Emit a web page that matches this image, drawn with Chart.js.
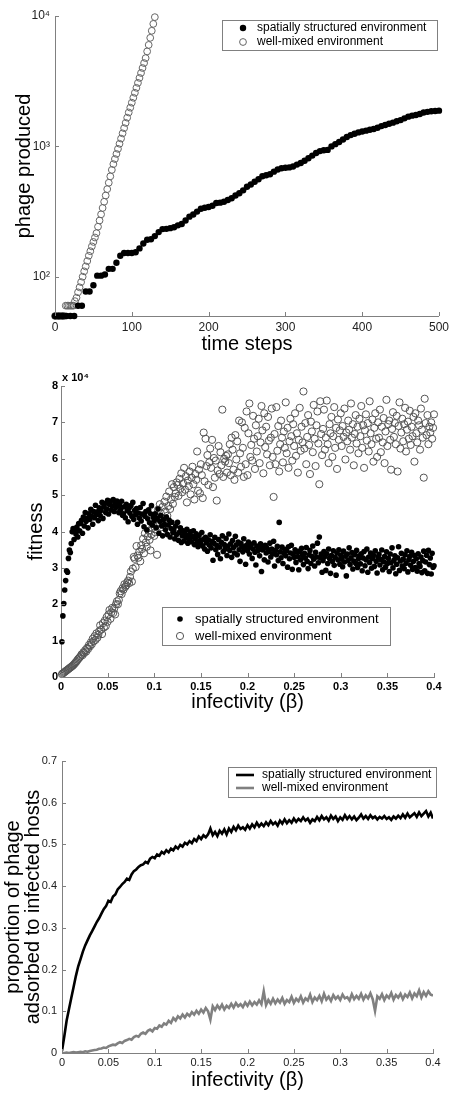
<!DOCTYPE html>
<html>
<head>
<meta charset="utf-8">
<script src="https://cdn.jsdelivr.net/npm/chart.js@4.4.1/dist/chart.umd.min.js"></script>
<style>
  html, body { margin: 0; padding: 0; background: #fff; }
  body { width: 453px; height: 1093px; position: relative; overflow: hidden; }
  canvas { position: absolute; left: 0; }
</style>
</head>
<body>
<canvas id="growthChart" width="453" height="358" style="top:0px"></canvas>
<canvas id="fitnessChart" width="453" height="360" style="top:358px"></canvas>
<canvas id="adsorbChart" width="453" height="375" style="top:718px"></canvas>
<script>
const legendLabels = ['spatially structured environment', 'well-mixed environment'];

// --- top panel: phage produced vs time steps (log y) ---
const spatialTimeStep = 5;   // one value every 5 time steps, 0..500
const spatialPhage = [
  50, 50, 50, 50, 50, 50, 60, 60, 77, 77,
  86, 102, 102, 104, 115, 115, 128, 145, 152, 152,
  152, 154, 165, 180, 192, 194, 205, 220, 232, 233,
  236, 240, 248, 254, 270, 289, 300, 316, 332, 338,
  343, 350, 368, 370, 376, 388, 400, 420, 437, 460,
  490, 510, 535, 560, 590, 600, 612, 640, 665, 680,
  685, 690, 700, 725, 745, 775, 810, 850, 890, 920,
  935, 940, 1000, 1040, 1080, 1130, 1180, 1220, 1250, 1280,
  1300, 1320, 1340, 1360, 1390, 1430, 1460, 1490, 1520, 1560,
  1590, 1640, 1690, 1720, 1740, 1770, 1820, 1840, 1860, 1870,
  1880
];
const mixedTimeStep = 2;     // one value every 2 time steps, 0..130
const mixedPhage = [
  50, 50, 50, 50, 50, 50, 50, 60, 60, 60, 60, 60, 60,
  65, 69, 76, 83, 91, 100, 110, 120, 132, 145, 157, 171, 185, 200,
  216, 242, 270, 301, 337, 376, 420, 470, 526, 589, 660, 731, 800, 875,
  957, 1047, 1148, 1259, 1380, 1514, 1660, 1820, 1982, 2163, 2360, 2576,
  2812, 3069, 3350, 3656, 3990, 4355, 4753, 5350, 6000, 6800, 7700, 8700, 9800
];
const growthTicks = [100, 1000, 10000];
const timeTicks = [0, 100, 200, 300, 400, 500];

// --- middle panel: fitness (x 10^4) vs infectivity ---
const fitnessBetaStep = 0.001;  // beta = 0.001 .. 0.400
const spatialFitness = [
  0.97, 1.68, 2.02, 2.39, 2.65, 2.92, 2.88, 3.26, 3.49, 3.42, 3.67, 3.99, 4.08, 3.78, 4.05, 3.93, 4.12, 3.85, 4.22, 4.02,
  4.22, 4.31, 3.95, 4.40, 4.15, 4.52, 4.28, 4.36, 4.10, 4.49, 4.33, 4.61, 4.42, 4.20, 4.55, 4.38, 4.72, 4.47, 4.54, 4.30,
  4.65, 4.44, 4.58, 4.80, 4.36, 4.69, 4.77, 4.52, 4.62, 4.86, 4.48, 4.74, 4.83, 4.59, 4.70, 4.88, 4.55, 4.78, 4.66, 4.84,
  4.78, 4.52, 4.71, 4.60, 4.83, 4.45, 4.49, 4.68, 4.38, 4.75, 4.57, 4.27, 4.64, 4.50, 4.71, 4.41, 4.80, 4.33, 4.58, 4.46,
  4.63, 4.20, 4.51, 4.37, 4.66, 4.29, 4.48, 4.77, 4.13, 4.42, 4.55, 4.04, 4.35, 4.60, 4.24, 4.49, 4.71, 4.18, 4.39, 4.30,
  4.49, 4.10, 4.36, 4.62, 3.95, 4.28, 4.44, 4.15, 3.88, 4.33, 4.20, 4.05, 4.40, 3.92, 4.18, 4.31, 3.85, 4.08, 4.25, 3.97,
  4.04, 3.80, 4.15, 3.92, 4.25, 3.76, 3.98, 4.10, 3.70, 3.88, 4.02, 3.74, 3.95, 3.83, 4.06, 3.68, 3.90, 3.77, 3.99, 3.72,
  3.86, 4.02, 3.64, 3.81, 3.94, 3.70, 3.58, 3.89, 3.75, 3.66, 3.97, 3.60, 3.79, 3.52, 3.84, 3.69, 3.46, 3.77, 3.63, 3.91,
  3.55, 3.73, 3.21, 3.68, 3.84, 3.50, 3.62, 3.37, 3.78, 3.57, 3.25, 3.70, 3.88, 3.45, 3.64, 3.52, 3.81, 3.34, 3.60, 3.93,
  3.48, 3.66, 3.29, 3.75, 3.56, 3.41, 3.87, 3.63, 3.36, 3.71, 3.50, 3.18, 3.67, 3.59, 3.44, 3.80, 3.53, 3.10, 3.62, 3.48,
  3.71, 3.38, 3.57, 3.64, 3.26, 3.52, 3.69, 3.43, 3.08, 3.60, 3.47, 3.55, 3.33, 3.66, 2.90, 3.49, 3.58, 3.22, 3.62, 3.41,
  3.54, 3.16, 3.45, 3.68, 3.30, 3.52, 3.39, 3.73, 3.05, 3.48, 3.36, 3.59, 3.20, 4.25, 3.44, 3.28, 3.57, 3.12, 3.40, 3.51,
  3.33, 3.47, 3.02, 3.58, 3.25, 3.41, 3.62, 2.96, 3.38, 3.29, 3.50, 3.15, 3.44, 3.31, 2.95, 3.46, 3.22, 3.54, 3.35, 3.09,
  3.40, 3.27, 3.56, 3.18, 2.98, 3.36, 3.48, 3.12, 3.32, 3.60, 3.24, 3.05, 3.43, 3.30, 3.68, 3.14, 3.85, 3.28, 3.38, 2.88,
  3.20, 3.45, 3.31, 2.93, 3.39, 3.12, 3.52, 3.26, 2.85, 3.34, 3.18, 3.47, 3.07, 3.29, 2.80, 3.41, 3.22, 3.50, 3.10, 3.35,
  3.24, 3.03, 3.46, 3.16, 3.32, 2.78, 3.38, 3.21, 3.55, 3.09, 3.28, 3.42, 2.97, 3.19, 3.36, 3.13, 3.48, 3.01, 3.25, 3.33,
  3.11, 3.39, 2.92, 3.27, 3.45, 3.06, 3.22, 3.52, 2.88, 3.30, 3.15, 3.41, 2.99, 3.26, 3.35, 3.04, 3.47, 3.18, 2.86, 3.29,
  3.37, 3.08, 3.23, 3.49, 2.95, 3.17, 3.31, 3.02, 3.44, 3.12, 3.26, 2.90, 3.38, 3.14, 3.55, 3.00, 3.21, 3.33, 2.84, 3.10,
  3.28, 3.58, 2.93, 3.19, 3.40, 3.05, 3.24, 2.98, 3.36, 3.13, 3.47, 2.89, 3.22, 3.31, 3.07, 3.43, 2.96, 3.18, 3.34, 3.01,
  3.25, 2.91, 3.39, 3.12, 3.04, 3.30, 2.87, 3.20, 3.46, 2.92, 3.16, 3.35, 2.85, 3.48, 3.09, 3.27, 2.83, 3.40, 3.02, 3.06
];
const mixedFitness = [
  0.08, 0.10, 0.12, 0.14, 0.16, 0.18, 0.20, 0.22, 0.24, 0.26, 0.28, 0.30, 0.32, 0.35, 0.38, 0.41, 0.44, 0.48, 0.51, 0.54,
  0.57, 0.62, 0.60, 0.68, 0.66, 0.74, 0.70, 0.80, 0.77, 0.88, 0.84, 0.95, 0.90, 1.05, 0.98, 1.12, 1.02, 1.20, 1.08, 1.16,
  1.26, 1.42, 1.30, 1.18, 1.48, 1.36, 1.55, 1.40, 1.65, 1.52, 1.72, 1.84, 1.60, 1.78, 1.90, 1.76, 1.88, 1.72, 2.00, 2.08,
  2.00, 2.12, 2.30, 2.36, 2.28, 2.44, 2.40, 2.55, 2.48, 2.52, 2.60, 2.65, 2.58, 2.75, 2.90, 2.62, 2.98, 3.30, 3.25, 3.02,
  3.60, 3.34, 3.28, 3.45, 3.18, 3.62, 3.52, 3.80, 3.40, 3.95, 3.70, 3.58, 3.86, 4.02, 3.77, 3.48, 3.92, 4.10, 4.20, 3.88,
  3.98, 4.40, 3.36, 4.60, 4.25, 4.75, 4.50, 4.12, 4.68, 4.35, 4.82, 4.55, 4.96, 4.43, 4.70, 5.10, 4.62, 4.88, 5.30, 4.76,
  5.22, 4.95, 5.05, 5.35, 5.28, 4.98, 5.45, 5.18, 5.60, 5.08, 5.32, 5.75, 5.15, 5.52, 4.80, 5.40, 5.25, 5.65, 5.02, 5.48,
  5.78, 5.30, 4.88, 5.58, 5.42, 6.20, 5.12, 5.70, 5.05, 5.85, 5.55, 4.92, 6.72, 5.38, 6.55, 5.80, 6.10, 5.28, 5.90, 6.28,
  5.75, 6.52, 5.22, 6.02, 5.48, 5.95, 4.85, 5.68, 6.35, 5.58, 6.18, 5.82, 7.35, 5.50, 6.00, 5.92, 6.08, 5.62, 6.12, 5.88,
  6.40, 5.55, 6.58, 6.25, 5.70, 5.42, 6.65, 5.98, 6.48, 5.62, 7.05, 6.15, 5.78, 7.00, 6.30, 5.50, 6.85, 5.85, 7.30, 5.55,
  6.70, 7.52, 6.05, 6.38, 5.95, 7.18, 6.55, 5.72, 6.92, 6.20, 6.62, 7.10, 5.88, 6.45, 7.45, 6.78, 5.60, 7.25, 6.32, 6.88,
  6.12, 7.15, 6.50, 5.82, 6.58, 7.38, 6.05, 4.95, 6.68, 5.85, 7.42, 6.22, 6.90, 5.65, 6.40, 7.05, 6.58, 5.90, 6.75, 6.30,
  7.55, 6.15, 6.85, 5.75, 6.48, 7.10, 6.62, 5.95, 6.95, 6.35, 7.25, 6.08, 6.70, 5.62, 6.52, 7.40, 6.22, 6.88, 6.45, 7.85,
  6.28, 6.98, 5.85, 6.60, 7.20, 6.38, 5.58, 7.02, 6.75, 6.18, 7.48, 6.55, 5.80, 6.92, 7.30, 6.42, 5.30, 7.58, 6.68, 6.10,
  6.82, 7.35, 6.25, 6.58, 7.60, 6.40, 5.88, 6.95, 6.70, 7.15, 6.05, 6.62, 7.42, 6.30, 6.85, 5.72, 7.08, 6.52, 6.78, 7.25,
  6.35, 6.90, 6.60, 7.38, 5.98, 6.72, 6.48, 7.05, 6.80, 6.25, 7.52, 6.58, 6.95, 5.82, 6.68, 7.20, 6.42, 6.88, 6.15, 7.10,
  6.62, 7.45, 6.30, 6.92, 5.75, 6.78, 7.22, 6.50, 6.98, 6.20, 7.58, 6.70, 6.40, 7.08, 5.92, 6.85, 7.25, 6.55, 6.05, 7.00,
  6.58, 7.35, 6.18, 6.88, 6.45, 7.12, 5.88, 6.75, 7.62, 6.35, 6.95, 7.05, 6.52, 5.70, 6.82, 7.28, 6.60, 6.98, 6.40, 7.18,
  5.65, 6.90, 7.55, 6.28, 6.72, 7.10, 6.48, 6.95, 7.40, 6.20, 6.80, 7.02, 6.55, 7.32, 6.38, 6.88, 6.62, 7.15, 5.92, 7.25,
  6.70, 6.45, 7.05, 6.92, 6.25, 7.38, 6.80, 6.58, 5.48, 7.65, 6.98, 6.65, 7.20, 6.40, 6.88, 6.72, 7.00, 6.55, 6.85, 7.22
];
const fitnessTicks = [0, 1, 2, 3, 4, 5, 6, 7, 8];
const betaTicks = [0, 0.05, 0.1, 0.15, 0.2, 0.25, 0.3, 0.35, 0.4];

// --- bottom panel: proportion adsorbed to infected hosts ---
const adsorbBetaStep = 0.0025;  // beta = 0 .. 0.4
const spatialAdsorbed = [
  0.005, 0.040, 0.078, 0.105, 0.132, 0.158, 0.185, 0.208, 0.225, 0.243,
  0.258, 0.270, 0.282, 0.292, 0.303, 0.314, 0.323, 0.334, 0.345, 0.352,
  0.365, 0.362, 0.375, 0.380, 0.392, 0.398, 0.405, 0.410, 0.418, 0.415,
  0.428, 0.436, 0.440, 0.446, 0.450, 0.452, 0.458, 0.455, 0.466, 0.470,
  0.467, 0.476, 0.473, 0.482, 0.478, 0.486, 0.481, 0.490, 0.486, 0.495,
  0.490, 0.499, 0.495, 0.504, 0.500, 0.508, 0.503, 0.513, 0.508, 0.519,
  0.513, 0.522, 0.517, 0.524, 0.538, 0.522, 0.530, 0.520, 0.533, 0.526,
  0.536, 0.524, 0.538, 0.530, 0.542, 0.534, 0.545, 0.537, 0.541, 0.535,
  0.546, 0.538, 0.548, 0.541, 0.552, 0.543, 0.550, 0.544, 0.553, 0.546,
  0.556, 0.548, 0.553, 0.545, 0.557, 0.550, 0.560, 0.551, 0.558, 0.552,
  0.562, 0.554, 0.561, 0.556, 0.565, 0.557, 0.562, 0.552, 0.560, 0.556,
  0.566, 0.558, 0.568, 0.560, 0.565, 0.557, 0.569, 0.561, 0.567, 0.556,
  0.565, 0.559, 0.570, 0.561, 0.568, 0.560, 0.567, 0.558, 0.564, 0.572,
  0.562, 0.568, 0.561, 0.570, 0.563, 0.567, 0.560, 0.566, 0.562, 0.568,
  0.561, 0.565, 0.559, 0.567, 0.562, 0.569, 0.563, 0.572, 0.564, 0.574,
  0.565, 0.570, 0.575, 0.566, 0.577, 0.568, 0.574, 0.580, 0.567, 0.576,
  0.562
];
const mixedAdsorbed = [
  0.000, 0.000, 0.001, 0.000, 0.001, 0.002, 0.001, 0.002, 0.003, 0.002,
  0.004, 0.003, 0.005, 0.006, 0.007, 0.008, 0.010, 0.011, 0.013, 0.012,
  0.016, 0.018, 0.020, 0.019, 0.023, 0.026, 0.024, 0.029, 0.031, 0.034,
  0.032, 0.038, 0.041, 0.039, 0.046, 0.049, 0.046, 0.053, 0.056, 0.052,
  0.060, 0.058, 0.066, 0.063, 0.071, 0.068, 0.077, 0.072, 0.084, 0.078,
  0.088, 0.083, 0.092, 0.085, 0.094, 0.089, 0.098, 0.092, 0.101, 0.094,
  0.104, 0.097, 0.108, 0.100, 0.080, 0.112, 0.103, 0.114, 0.106, 0.116,
  0.104, 0.113, 0.108, 0.118, 0.109, 0.120, 0.112, 0.117, 0.110, 0.121,
  0.113, 0.123, 0.114, 0.122, 0.116, 0.126, 0.117, 0.148, 0.115, 0.127,
  0.118, 0.130, 0.119, 0.128, 0.121, 0.132, 0.118, 0.127, 0.122, 0.135,
  0.120, 0.130, 0.124, 0.136, 0.121, 0.131, 0.126, 0.140, 0.122, 0.133,
  0.127, 0.137, 0.124, 0.142, 0.128, 0.135, 0.125, 0.139, 0.130, 0.136,
  0.127, 0.140, 0.131, 0.134, 0.126, 0.141, 0.129, 0.137, 0.130, 0.142,
  0.128, 0.138, 0.131, 0.143, 0.129, 0.101, 0.136, 0.130, 0.141, 0.127,
  0.138, 0.132, 0.144, 0.128, 0.139, 0.133, 0.142, 0.129, 0.140, 0.134,
  0.145, 0.131, 0.143, 0.136, 0.150, 0.133, 0.146, 0.137, 0.148, 0.140,
  0.138
];
const proportionTicks = [0, 0.1, 0.2, 0.3, 0.4, 0.5, 0.6, 0.7];


Chart.defaults.font.family = "'Liberation Sans', Arial, sans-serif";
Chart.defaults.color = '#222';

const AXIS_GRAY = '#808080';
const SUP = { '2': '\u00b2', '3': '\u00b3', '4': '\u2074' };

// turn a list of values into {x, y} points on an even grid
function toPoints(values, step, start) {
  return values.map((v, i) => ({ x: +(start + i * step).toFixed(4), y: v }));
}

function fmt(v) {
  return String(+v.toFixed(2));
}

// matlab style: short tick marks pointing into the plot
const inwardTicks = {
  id: 'inwardTicks',
  afterDatasetsDraw(chart) {
    const { ctx, chartArea, scales } = chart;
    ctx.save();
    ctx.strokeStyle = AXIS_GRAY;
    ctx.lineWidth = 1;
    ctx.beginPath();
    scales.x.ticks.forEach(t => {
      const px = Math.round(scales.x.getPixelForValue(t.value)) + 0.5;
      ctx.moveTo(px, chartArea.bottom);
      ctx.lineTo(px, chartArea.bottom - 4);
    });
    scales.y.ticks.forEach(t => {
      const py = Math.round(scales.y.getPixelForValue(t.value)) + 0.5;
      ctx.moveTo(chartArea.left, py);
      ctx.lineTo(chartArea.left + 4, py);
    });
    ctx.stroke();
    ctx.restore();
  }
};

// framed legend like the original figure
const boxLegend = {
  id: 'boxLegend',
  afterDraw(chart, args, opts) {
    const ctx = chart.ctx;
    ctx.save();
    ctx.fillStyle = '#fff';
    ctx.fillRect(opts.left, opts.top, opts.width, opts.height);
    ctx.strokeStyle = AXIS_GRAY;
    ctx.lineWidth = 1;
    ctx.strokeRect(opts.left + 0.5, opts.top + 0.5, opts.width, opts.height);
    ctx.font = opts.font;
    ctx.textBaseline = 'middle';
    chart.data.datasets.forEach((ds, i) => {
      const y = opts.rowY[i];
      if (opts.kind === 'line') {
        ctx.strokeStyle = ds.borderColor;
        ctx.lineWidth = ds.borderWidth;
        ctx.beginPath();
        ctx.moveTo(opts.markerX - 9, y);
        ctx.lineTo(opts.markerX + 9, y);
        ctx.stroke();
      } else {
        ctx.beginPath();
        ctx.arc(opts.markerX, y, ds.pointRadius, 0, Math.PI * 2);
        if (ds.pointBorderWidth === 0) {
          ctx.fillStyle = ds.pointBackgroundColor;
          ctx.fill();
        } else {
          ctx.strokeStyle = ds.pointBorderColor;
          ctx.lineWidth = ds.pointBorderWidth;
          ctx.stroke();
        }
      }
      ctx.fillStyle = '#000';
      ctx.fillText(ds.label, opts.textX, y);
    });
    ctx.restore();
  }
};

// the "x 10^4" multiplier above the fitness axis
const axisNote = {
  id: 'axisNote',
  afterDraw(chart, args, opts) {
    if (!opts.text) return;
    const ctx = chart.ctx;
    ctx.save();
    ctx.font = opts.font;
    ctx.fillStyle = '#000';
    ctx.textBaseline = 'middle';
    ctx.fillText(opts.text, opts.x, opts.y);
    ctx.restore();
  }
};

function baseAxis(extra) {
  return Object.assign({
    grid: { display: false, drawTicks: false },
    border: { display: true, color: AXIS_GRAY, width: 1 }
  }, extra);
}

// ---------- chart 1 ----------
new Chart(document.getElementById('growthChart'), {
  type: 'scatter',
  data: {
    datasets: [{
      label: legendLabels[0],
      data: toPoints(spatialPhage, spatialTimeStep, 0),
      pointRadius: 3.2,
      pointBorderWidth: 0,
      pointBackgroundColor: '#000',
      pointBorderColor: '#000',
      clip: false
    }, {
      label: legendLabels[1],
      data: toPoints(mixedPhage, mixedTimeStep, 0),
      pointRadius: 3.4,
      pointBorderWidth: 1,
      pointBackgroundColor: 'rgba(0,0,0,0)',
      pointBorderColor: '#666',
      clip: false
    }]
  },
  options: {
    responsive: false,
    animation: false,
    layout: { padding: { left: 0, top: 16, right: 11, bottom: 0 } },
    scales: {
      x: baseAxis({
        type: 'linear', min: 0, max: 500,
        afterBuildTicks: s => { s.ticks = timeTicks.map(v => ({ value: v })); },
        afterFit: s => { s.height = 42; },
        ticks: { font: { size: 12 }, padding: 4, color: '#222', autoSkip: false, maxRotation: 0 },
        title: { display: true, text: 'time steps', font: { size: 20, lineHeight: 1 }, color: '#000', padding: { top: 0, bottom: 4 } }
      }),
      y: baseAxis({
        type: 'logarithmic', min: 50, max: 10000,
        afterBuildTicks: s => { s.ticks = growthTicks.map(v => ({ value: v })); },
        afterFit: s => { s.width = 55; },
        ticks: { font: { size: 12 }, padding: 5, color: '#222',
          callback: v => '10' + SUP[String(Math.round(Math.log10(v)))] },
        title: { display: true, text: 'phage produced', font: { size: 20, lineHeight: 1 }, color: '#000', padding: { top: 14, bottom: 0 } }
      })
    },
    plugins: {
      legend: { display: false },
      tooltip: { enabled: false },
      boxLegend: { left: 222, top: 20, width: 215, height: 30, rowY: [28, 42], markerX: 243, textX: 257, font: '12px "Liberation Sans", Arial, sans-serif' }
    }
  },
  plugins: [inwardTicks, boxLegend]
});

// ---------- chart 2 ----------
new Chart(document.getElementById('fitnessChart'), {
  type: 'scatter',
  data: {
    datasets: [{
      label: legendLabels[0],
      data: toPoints(spatialFitness, fitnessBetaStep, fitnessBetaStep),
      pointRadius: 2.8,
      pointBorderWidth: 0,
      pointBackgroundColor: '#000',
      pointBorderColor: '#000',
      clip: false
    }, {
      label: legendLabels[1],
      data: toPoints(mixedFitness, fitnessBetaStep, fitnessBetaStep),
      pointRadius: 3.6,
      pointBorderWidth: 1,
      pointBackgroundColor: 'rgba(0,0,0,0)',
      pointBorderColor: '#555',
      clip: false
    }]
  },
  options: {
    responsive: false,
    animation: false,
    layout: { padding: { left: 0, top: 28, right: 19, bottom: 0 } },
    scales: {
      x: baseAxis({
        type: 'linear', min: 0, max: 0.4,
        afterBuildTicks: s => { s.ticks = betaTicks.map(v => ({ value: v })); },
        afterFit: s => { s.height = 41; },
        ticks: { font: { size: 11, weight: 'bold' }, padding: 3, color: '#000', autoSkip: false, maxRotation: 0, callback: v => fmt(v) },
        title: { display: true, text: 'infectivity (\u03b2)', font: { size: 20, lineHeight: 1 }, color: '#000', padding: { top: 0, bottom: 6 } }
      }),
      y: baseAxis({
        type: 'linear', min: 0, max: 8,
        afterBuildTicks: s => { s.ticks = fitnessTicks.map(v => ({ value: v })); },
        afterFit: s => { s.width = 61; },
        ticks: { font: { size: 11, weight: 'bold' }, padding: 3, color: '#000' },
        title: { display: true, text: 'fitness', font: { size: 20, lineHeight: 1 }, color: '#000', padding: { top: 26, bottom: 0 } }
      })
    },
    plugins: {
      legend: { display: false },
      tooltip: { enabled: false },
      boxLegend: { left: 162, top: 249, width: 228, height: 38, rowY: [261, 278], markerX: 180, textX: 195, font: '13px "Liberation Sans", Arial, sans-serif' },
      axisNote: { text: 'x 10\u2074', x: 62, y: 20, font: 'bold 11px "Liberation Sans", Arial, sans-serif' }
    }
  },
  plugins: [inwardTicks, boxLegend, axisNote]
});

// ---------- chart 3 ----------
new Chart(document.getElementById('adsorbChart'), {
  type: 'scatter',
  data: {
    datasets: [{
      label: legendLabels[0],
      data: toPoints(spatialAdsorbed, adsorbBetaStep, 0),
      showLine: true,
      borderColor: '#000',
      borderWidth: 2.6,
      pointRadius: 0,
      tension: 0
    }, {
      label: legendLabels[1],
      data: toPoints(mixedAdsorbed, adsorbBetaStep, 0),
      showLine: true,
      borderColor: '#808080',
      borderWidth: 2.6,
      pointRadius: 0,
      tension: 0
    }]
  },
  options: {
    responsive: false,
    animation: false,
    layout: { padding: { left: 0, top: 43, right: 20, bottom: 0 } },
    scales: {
      x: baseAxis({
        type: 'linear', min: 0, max: 0.4,
        afterBuildTicks: s => { s.ticks = betaTicks.map(v => ({ value: v })); },
        afterFit: s => { s.height = 40; },
        ticks: { font: { size: 11 }, padding: 3, color: '#222', autoSkip: false, maxRotation: 0, callback: v => fmt(v) },
        title: { display: true, text: 'infectivity (\u03b2)', font: { size: 20, lineHeight: 1 }, color: '#000', padding: { top: 0, bottom: 3 } }
      }),
      y: baseAxis({
        type: 'linear', min: 0, max: 0.7,
        afterBuildTicks: s => { s.ticks = proportionTicks.map(v => ({ value: v })); },
        afterFit: s => { s.width = 62; },
        ticks: { font: { size: 11 }, padding: 5, color: '#222', callback: v => fmt(v) },
        title: { display: true, text: ['proportion of phage', 'adsorbed to infected hosts'], font: { size: 20, lineHeight: 1 }, color: '#000', padding: { top: 3, bottom: 0 } }
      })
    },
    plugins: {
      legend: { display: false },
      tooltip: { enabled: false },
      boxLegend: { kind: 'line', left: 228, top: 49, width: 208, height: 30, rowY: [57, 70], markerX: 245, textX: 262, font: '12px "Liberation Sans", Arial, sans-serif' }
    }
  },
  plugins: [inwardTicks, boxLegend]
});
</script>
</body>
</html>
